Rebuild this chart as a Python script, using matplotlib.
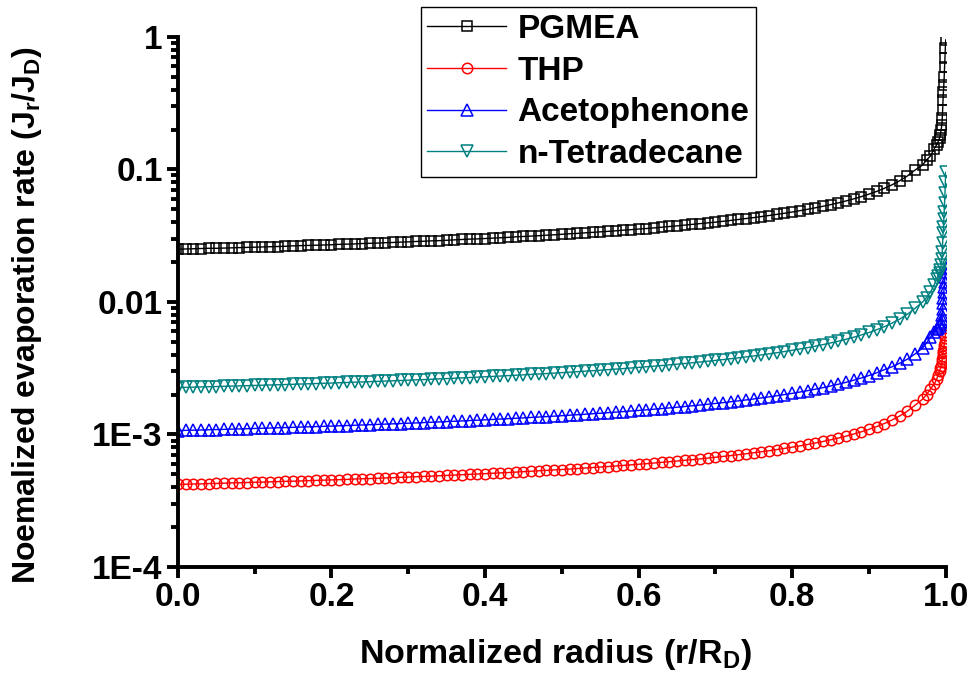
import numpy as np
import matplotlib
matplotlib.use("Agg")
import matplotlib.pyplot as plt
from matplotlib.ticker import LogLocator, NullFormatter, MultipleLocator

plt.rcParams['font.family'] = ['Liberation Sans', 'DejaVu Sans']
plt.rcParams['font.weight'] = 'bold'
plt.rcParams['mathtext.fontset'] = 'custom'
plt.rcParams['mathtext.rm'] = 'Liberation Sans:bold'
plt.rcParams['mathtext.it'] = 'Liberation Sans:bold'
plt.rcParams['mathtext.bf'] = 'Liberation Sans:bold'

# normalized radius r/R_D : every 0.01 up to 0.96, then the points crowded at the contact line
r = [0.00, 0.01, 0.02, 0.03, 0.04, 0.05, 0.06, 0.07, 0.08, 0.09,
     0.10, 0.11, 0.12, 0.13, 0.14, 0.15, 0.16, 0.17, 0.18, 0.19,
     0.20, 0.21, 0.22, 0.23, 0.24, 0.25, 0.26, 0.27, 0.28, 0.29,
     0.30, 0.31, 0.32, 0.33, 0.34, 0.35, 0.36, 0.37, 0.38, 0.39,
     0.40, 0.41, 0.42, 0.43, 0.44, 0.45, 0.46, 0.47, 0.48, 0.49,
     0.50, 0.51, 0.52, 0.53, 0.54, 0.55, 0.56, 0.57, 0.58, 0.59,
     0.60, 0.61, 0.62, 0.63, 0.64, 0.65, 0.66, 0.67, 0.68, 0.69,
     0.70, 0.71, 0.72, 0.73, 0.74, 0.75, 0.76, 0.77, 0.78, 0.79,
     0.80, 0.81, 0.82, 0.83, 0.84, 0.85, 0.86, 0.87, 0.88, 0.89,
     0.90, 0.91, 0.92, 0.93, 0.94, 0.95, 0.96,
     0.97, 0.975, 0.98, 0.985, 0.988, 0.99, 0.992, 0.993, 0.994, 0.995,
     0.9955, 0.996, 0.9965, 0.997, 0.9975, 0.998, 0.9985, 0.999, 0.9995, 1.0]

pgmea = [0.0250, 0.0251, 0.0252, 0.0253, 0.0254, 0.0254, 0.0255, 0.0256, 0.0257, 0.0258,
         0.0259, 0.0260, 0.0261, 0.0262, 0.0263, 0.0265, 0.0266, 0.0267, 0.0268, 0.0269,
         0.0270, 0.0272, 0.0273, 0.0274, 0.0276, 0.0277, 0.0278, 0.0280, 0.0281, 0.0283,
         0.0284, 0.0286, 0.0287, 0.0289, 0.0290, 0.0292, 0.0294, 0.0296, 0.0298, 0.0299,
         0.0301, 0.0303, 0.0305, 0.0307, 0.0310, 0.0312, 0.0314, 0.0316, 0.0319, 0.0321,
         0.0324, 0.0327, 0.0329, 0.0332, 0.0335, 0.0338, 0.0341, 0.0344, 0.0348, 0.0351,
         0.0355, 0.0358, 0.0362, 0.0366, 0.0371, 0.0375, 0.0380, 0.0385, 0.0390, 0.0395,
         0.0400, 0.0406, 0.0412, 0.0419, 0.0426, 0.0433, 0.0441, 0.0449, 0.0458, 0.0467,
         0.0477, 0.0488, 0.0500, 0.0513, 0.0527, 0.0542, 0.0559, 0.0578, 0.0599, 0.0623,
         0.0651, 0.0682, 0.0720, 0.0765, 0.0821, 0.0892, 0.0989,
         0.108, 0.118, 0.126, 0.143, 0.153, 0.161, 0.173, 0.182, 0.199, 0.217,
         0.245, 0.281, 0.335, 0.385, 0.434, 0.499, 0.594, 0.694, 0.826, 0.949]

# the three lower series in units of 1E-4
thp = [4.20, 4.21, 4.23, 4.24, 4.26, 4.27, 4.29, 4.31, 4.32, 4.34,
       4.36, 4.37, 4.39, 4.41, 4.43, 4.44, 4.46, 4.48, 4.50, 4.52,
       4.54, 4.56, 4.58, 4.61, 4.63, 4.65, 4.67, 4.70, 4.72, 4.75,
       4.77, 4.80, 4.82, 4.85, 4.88, 4.91, 4.94, 4.97, 5.00, 5.03,
       5.06, 5.10, 5.13, 5.16, 5.20, 5.24, 5.28, 5.32, 5.36, 5.40,
       5.44, 5.48, 5.53, 5.58, 5.63, 5.68, 5.73, 5.78, 5.84, 5.90,
       5.96, 6.02, 6.09, 6.16, 6.23, 6.30, 6.38, 6.46, 6.54, 6.63,
       6.73, 6.83, 6.93, 7.04, 7.15, 7.28, 7.41, 7.54, 7.69, 7.85,
       8.02, 8.20, 8.40, 8.62, 8.85, 9.11, 9.39, 9.71, 10.07, 10.47,
       10.93, 11.46, 12.09, 12.85, 13.79, 14.99, 16.61,
       18.5, 20.0, 22.0, 24.0, 26.0, 28.0, 30.0, 31.5, 33.0, 35.0,
       37.0, 39.0, 41.0, 43.0, 45.0, 47.5, 50.0, 53.0, 56.0, 59.0]

aceto = [10.70, 10.74, 10.77, 10.81, 10.85, 10.89, 10.93, 10.97, 11.01, 11.05,
         11.10, 11.14, 11.18, 11.23, 11.27, 11.32, 11.37, 11.42, 11.47, 11.52,
         11.57, 11.63, 11.68, 11.73, 11.79, 11.85, 11.91, 11.97, 12.03, 12.09,
         12.16, 12.22, 12.29, 12.36, 12.43, 12.51, 12.58, 12.65, 12.73, 12.81,
         12.90, 12.98, 13.07, 13.16, 13.25, 13.34, 13.44, 13.54, 13.64, 13.75,
         13.86, 13.97, 14.09, 14.21, 14.34, 14.46, 14.60, 14.74, 14.88, 15.03,
         15.18, 15.34, 15.51, 15.68, 15.86, 16.05, 16.25, 16.46, 16.67, 16.90,
         17.14, 17.39, 17.65, 17.93, 18.22, 18.53, 18.87, 19.22, 19.59, 20.00,
         20.43, 20.90, 21.40, 21.95, 22.55, 23.21, 23.93, 24.74, 25.65, 26.67,
         27.85, 29.20, 30.81, 32.40, 34.50, 37.00, 40.50,
         45.0, 49.0, 54.0, 59.0, 62.0, 64.0, 66.0, 68.0, 70.0, 74.0,
         80.0, 88.0, 98.0, 108.0, 118.0, 130.0, 142.0, 155.0, 168.0, 180.0]

tetra = [22.60, 22.68, 22.76, 22.84, 22.92, 23.00, 23.08, 23.17, 23.26, 23.34,
         23.44, 23.53, 23.62, 23.72, 23.81, 23.91, 24.02, 24.12, 24.22, 24.33,
         24.44, 24.55, 24.67, 24.79, 24.91, 25.03, 25.15, 25.28, 25.41, 25.54,
         25.68, 25.82, 25.96, 26.11, 26.26, 26.41, 26.57, 26.73, 26.90, 27.07,
         27.24, 27.42, 27.60, 27.79, 27.99, 28.18, 28.39, 28.60, 28.82, 29.04,
         29.28, 29.51, 29.76, 30.02, 30.28, 30.55, 30.83, 31.12, 31.43, 31.74,
         32.07, 32.41, 32.76, 33.12, 33.51, 33.90, 34.32, 34.76, 35.21, 35.69,
         36.20, 36.73, 37.28, 37.87, 38.49, 39.15, 39.85, 40.59, 41.39, 42.24,
         43.15, 44.14, 45.20, 46.36, 47.63, 49.02, 50.55, 52.26, 54.17, 56.34,
         58.81, 61.68, 65.08, 69.16, 74.20, 80.67, 89.38,
         100.0, 108.0, 118.0, 135.0, 148.0, 158.0, 166.0, 175.0, 190.0, 210.0,
         240.0, 280.0, 330.0, 370.0, 420.0, 480.0, 560.0, 660.0, 800.0, 950.0]

labels = ['PGMEA', 'THP', 'Acetophenone', 'n-Tetradecane']
colors = ['black', 'red', 'blue', '#008080']
markers = ['s', 'o', '^', 'v']
msizes = [7, 7.5, 8.5, 8.5]
series = [np.array(pgmea), np.array(thp) * 1e-4, np.array(aceto) * 1e-4, np.array(tetra) * 1e-4]

fig = plt.figure(figsize=(9.67, 6.77), dpi=100)
ax = fig.add_axes([0.184, 0.1625, 0.794, 0.783])

for y, lab, c, m, ms in zip(series, labels, colors, markers, msizes):
    ax.plot(r, y, color=c, marker=m, ms=ms, mfc='none', mec=c, mew=1.1, lw=1.0, label=lab)

ax.set_yscale('log')
ax.set_xlim(0, 1.0)
ax.set_ylim(1e-4, 1)
ax.set_yticks([1e-4, 1e-3, 1e-2, 1e-1, 1])
ax.set_yticklabels(['1E-4', '1E-3', '0.01', '0.1', '1'])
ax.yaxis.set_minor_locator(LogLocator(base=10, subs=range(2, 10)))
ax.yaxis.set_minor_formatter(NullFormatter())
ax.set_xticks([0.0, 0.2, 0.4, 0.6, 0.8, 1.0])
ax.set_xticklabels(['0.0', '0.2', '0.4', '0.6', '0.8', '1.0'])
ax.xaxis.set_minor_locator(MultipleLocator(0.1))

for s in ['top', 'right']:
    ax.spines[s].set_visible(False)
for s in ['left', 'bottom']:
    ax.spines[s].set_linewidth(2.8)

ax.tick_params(which='major', direction='out', length=8, width=2.8, labelsize=24, pad=3)
ax.tick_params(which='minor', direction='out', length=5, width=2.8)
for t in ax.get_xticklabels() + ax.get_yticklabels():
    t.set_fontweight('bold')

fig.text(0.028, 0.535, r'Noemalized evaporation rate (J$_\mathrm{r}$/J$_\mathrm{D}$)',
         rotation=90, ha='center', va='center', fontsize=23, fontweight='bold')
fig.text(0.574, 0.033, r'Normalized radius (r/R$_\mathrm{D}$)',
         ha='center', va='center', fontsize=24.5, fontweight='bold')

leg = fig.legend(loc='upper left', bbox_to_anchor=(0.435, 0.989), frameon=True, fancybox=False,
                 edgecolor='black', framealpha=1, prop={'size': 24, 'weight': 'bold'},
                 handlelength=2.37, handletextpad=0.33, labelspacing=0.32, borderpad=0.2,
                 borderaxespad=0, numpoints=1)
leg.get_frame().set_linewidth(1.0)

fig.savefig('out.png', dpi=100)
